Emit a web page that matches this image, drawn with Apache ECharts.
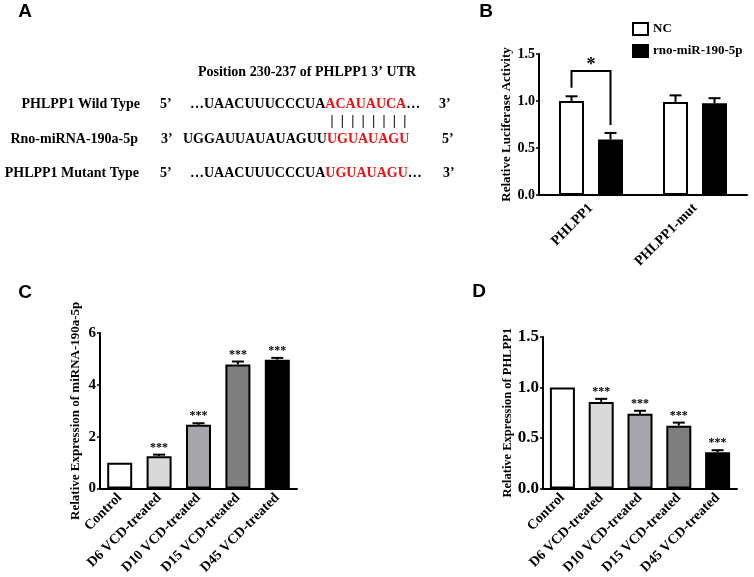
<!DOCTYPE html>
<html>
<head>
<meta charset="utf-8">
<script src="https://cdn.jsdelivr.net/npm/echarts@6.0.0/dist/echarts.min.js"></script>
<style>
html,body{margin:0;padding:0;background:#fff}
#main{width:754px;height:577px}
</style>
</head>
<body>
<div id="main"></div>
<script>
var serif = '"Liberation Serif", "Times New Roman", serif';
var sans = '"Liberation Sans", Arial, sans-serif';

// panel B - luciferase
var bCats = ['PHLPP1', 'PHLPP1-mut'];
var bNC = [1.00, 0.99];
var bNCErr = [0.05, 0.07];
var bMiR = [0.59, 0.975];
var bMiRErr = [0.07, 0.055];
var bBracket = [0, 1.14, 1.32, 0.745]; // category, left leg bottom, top, right leg bottom

// panels C and D
var treatCats = ['Control', 'D6 VCD-treated', 'D10 VCD-treated', 'D15 VCD-treated', 'D45 VCD-treated'];
var cVals = [1.0, 1.25, 2.46, 4.79, 4.97];
var cErr = [0, 0.06, 0.06, 0.11, 0.07];
var dVals = [1.0, 0.858, 0.74, 0.623, 0.36];
var dErr = [0, 0.03, 0.03, 0.03, 0.02];
var sigMarks = ['', '***', '***', '***', '***'];
var barColors = ['#ffffff', '#d9d9d9', '#a6a5ab', '#7f7f7f', '#000000'];

var myChart = echarts.init(document.getElementById('main'));

// error bar + star drawn on top of the bars
function errRender(offset, sigs) {
    return function (params, api) {
        var i = params.dataIndex;
        var base = api.coord([api.value(0), api.value(1)]);
        var top = api.coord([api.value(0), api.value(1) + api.value(2)]);
        var x = base[0] + offset;
        var kids = [];
        if (api.value(2) > 0) {
            kids.push({type: 'line', shape: {x1: x, y1: base[1], x2: x, y2: top[1]}, style: {stroke: '#000', lineWidth: 2}});
            kids.push({type: 'line', shape: {x1: x - 6, y1: top[1], x2: x + 6, y2: top[1]}, style: {stroke: '#000', lineWidth: 2}});
        }
        if (sigs && sigs[i]) {
            kids.push({type: 'text', x: x, y: top[1] - 7,
                style: {text: sigs[i], fill: '#000', font: 'bold 12px ' + serif, align: 'center', verticalAlign: 'middle'}});
        }
        return {type: 'group', children: kids};
    };
}

function errData(vals, errs) {
    return vals.map(function (v, i) { return [i, v, errs[i]]; });
}

function xAx(idx, cats, margin) {
    return {
        type: 'category', gridIndex: idx, data: cats,
        axisLine: {lineStyle: {color: '#000', width: 2}},
        axisTick: {alignWithLabel: true, length: 3, lineStyle: {color: '#000', width: 1.5}},
        axisLabel: {interval: 0, rotate: 45, margin: margin, color: '#000', fontFamily: serif, fontWeight: 'bold', fontSize: 14}
    };
}

function yAx(idx, max, step, dec, name, gap, nameSize, labelSize) {
    return {
        type: 'value', gridIndex: idx, min: 0, max: max, interval: step,
        name: name, nameLocation: 'middle', nameGap: gap, nameMoveOverlap: false,
        nameTextStyle: {color: '#000', fontFamily: serif, fontWeight: 'bold', fontSize: nameSize},
        axisLine: {show: true, lineStyle: {color: '#000', width: 2}},
        axisTick: {show: true, length: 3, lineStyle: {color: '#000', width: 1.5}},
        splitLine: {show: false},
        axisLabel: {margin: 4, color: '#000', fontFamily: serif, fontWeight: 'bold', fontSize: labelSize,
            formatter: function (v) { return v.toFixed(dec); }}
    };
}

var seqFont = 'bold 14px ' + serif;
var red = '#ee1111';
var graphics = [
    {type: 'text', x: 25, y: 12, style: {text: 'A', font: 'bold 19px ' + sans, align: 'center', verticalAlign: 'middle', fill: '#000'}},
    {type: 'text', x: 486, y: 12, style: {text: 'B', font: 'bold 19px ' + sans, align: 'center', verticalAlign: 'middle', fill: '#000'}},
    {type: 'text', x: 25, y: 293, style: {text: 'C', font: 'bold 19px ' + sans, align: 'center', verticalAlign: 'middle', fill: '#000'}},
    {type: 'text', x: 479, y: 292, style: {text: 'D', font: 'bold 19px ' + sans, align: 'center', verticalAlign: 'middle', fill: '#000'}},
    {type: 'text', x: 307, y: 72, style: {text: 'Position 230-237 of PHLPP1 3’ UTR', font: seqFont, align: 'center', verticalAlign: 'middle', fill: '#000'}},

    {type: 'text', x: 140, y: 104, style: {text: 'PHLPP1 Wild Type', font: seqFont, align: 'right', verticalAlign: 'middle', fill: '#000'}},
    {type: 'text', x: 138, y: 139, style: {text: 'Rno-miRNA-190a-5p', font: seqFont, align: 'right', verticalAlign: 'middle', fill: '#000'}},
    {type: 'text', x: 139, y: 173, style: {text: 'PHLPP1 Mutant Type', font: seqFont, align: 'right', verticalAlign: 'middle', fill: '#000'}},

    {type: 'text', x: 160, y: 104, style: {text: '5’', font: seqFont, verticalAlign: 'middle', fill: '#000'}},
    {type: 'text', x: 161, y: 139, style: {text: '3’', font: seqFont, verticalAlign: 'middle', fill: '#000'}},
    {type: 'text', x: 160, y: 173, style: {text: '5’', font: seqFont, verticalAlign: 'middle', fill: '#000'}},
    {type: 'text', x: 439, y: 104, style: {text: '3’', font: seqFont, verticalAlign: 'middle', fill: '#000'}},
    {type: 'text', x: 442, y: 139, style: {text: '5’', font: seqFont, verticalAlign: 'middle', fill: '#000'}},
    {type: 'text', x: 443, y: 173, style: {text: '3’', font: seqFont, verticalAlign: 'middle', fill: '#000'}},

    {type: 'text', x: 190, y: 104, style: {text: '…UAACUUUCCCUA{r|ACAUAUCA}…', font: seqFont, verticalAlign: 'middle', fill: '#000',
        rich: {r: {fill: red, font: seqFont}}}},
    {type: 'text', x: 183, y: 139, style: {text: 'UGGAUUAUAUAGUU{r|UGUAUAGU}', font: seqFont, verticalAlign: 'middle', fill: '#000',
        rich: {r: {fill: red, font: seqFont}}}},
    {type: 'text', x: 190, y: 173, style: {text: '…UAACUUUCCCUA{r|UGUAUAGU}…', font: seqFont, verticalAlign: 'middle', fill: '#000',
        rich: {r: {fill: red, font: seqFont}}}}
];
// base-pairing ticks
for (var k = 0; k < 8; k++) {
    var px = 332 + k * 10.4;
    graphics.push({type: 'line', shape: {x1: px, y1: 115, x2: px, y2: 128}, style: {stroke: '#333', lineWidth: 1.2}});
}

var barBase = {type: 'bar', barWidth: 25, itemStyle: {borderColor: '#000', borderWidth: 2}};

myChart.setOption({
    animation: false,
    backgroundColor: '#fff',
    textStyle: {fontFamily: serif},
    graphic: graphics,
    legend: {
        orient: 'vertical', left: 627, top: 17, itemWidth: 15, itemHeight: 12, itemGap: 8,
        textStyle: {color: '#000', fontFamily: serif, fontWeight: 'bold', fontSize: 13},
        data: [
            {name: 'NC', icon: 'rect', itemStyle: {color: '#fff', borderColor: '#000', borderWidth: 2}},
            {name: 'rno-miR-190-5p', icon: 'rect', itemStyle: {color: '#000', borderColor: '#000', borderWidth: 2}}
        ]
    },
    grid: [
        {left: 539, top: 54, width: 208, height: 141},
        {left: 100, top: 333, width: 197, height: 157},
        {left: 543, top: 337, width: 194, height: 153}
    ],
    xAxis: [xAx(0, bCats, 11), xAx(1, treatCats, 7), xAx(2, treatCats, 7)],
    yAxis: [
        yAx(0, 1.5, 0.5, 1, 'Relative Luciferase Activity', 26, 13, 14),
        yAx(1, 6, 2, 0, 'Relative Expression of miRNA-190a-5p', 18, 13, 15),
        yAx(2, 1.5, 0.5, 1, 'Relative Expression of PHLPP1', 29, 12.5, 17)
    ],
    series: [
        echarts.util.merge({name: 'NC', xAxisIndex: 0, yAxisIndex: 0, barGap: '56%',
            data: bNC, itemStyle: {color: '#fff'}}, barBase),
        echarts.util.merge({name: 'rno-miR-190-5p', xAxisIndex: 0, yAxisIndex: 0, barGap: '56%',
            data: bMiR, itemStyle: {color: '#000'}}, barBase),
        {type: 'custom', xAxisIndex: 0, yAxisIndex: 0, z: 5, renderItem: errRender(-19.5), data: errData(bNC, bNCErr)},
        {type: 'custom', xAxisIndex: 0, yAxisIndex: 0, z: 5, renderItem: errRender(19.5), data: errData(bMiR, bMiRErr)},
        {type: 'custom', xAxisIndex: 0, yAxisIndex: 0, z: 5, data: [bBracket],
            renderItem: function (params, api) {
                var c = api.value(0);
                var l = api.coord([c, api.value(1)]);
                var t = api.coord([c, api.value(2)]);
                var r = api.coord([c, api.value(3)]);
                var xl = l[0] - 19.5, xr = l[0] + 19.5;
                return {type: 'group', children: [
                    {type: 'polyline', shape: {points: [[xl, l[1]], [xl, t[1]], [xr, t[1]], [xr, r[1]]]},
                        style: {stroke: '#000', lineWidth: 2, fill: null}},
                    {type: 'text', x: (xl + xr) / 2, y: t[1] - 6,
                        style: {text: '*', fill: '#000', font: 'bold 18px ' + serif, align: 'center', verticalAlign: 'middle'}}
                ]};
            }},

        echarts.util.merge({name: 'C', xAxisIndex: 1, yAxisIndex: 1,
            data: cVals.map(function (v, i) { return {value: v, itemStyle: {color: barColors[i]}}; })}, barBase),
        {type: 'custom', xAxisIndex: 1, yAxisIndex: 1, z: 5, renderItem: errRender(0, sigMarks), data: errData(cVals, cErr)},

        echarts.util.merge({name: 'D', xAxisIndex: 2, yAxisIndex: 2,
            data: dVals.map(function (v, i) { return {value: v, itemStyle: {color: barColors[i]}}; })}, barBase),
        {type: 'custom', xAxisIndex: 2, yAxisIndex: 2, z: 5, renderItem: errRender(0, sigMarks), data: errData(dVals, dErr)}
    ]
});
</script>
</body>
</html>
